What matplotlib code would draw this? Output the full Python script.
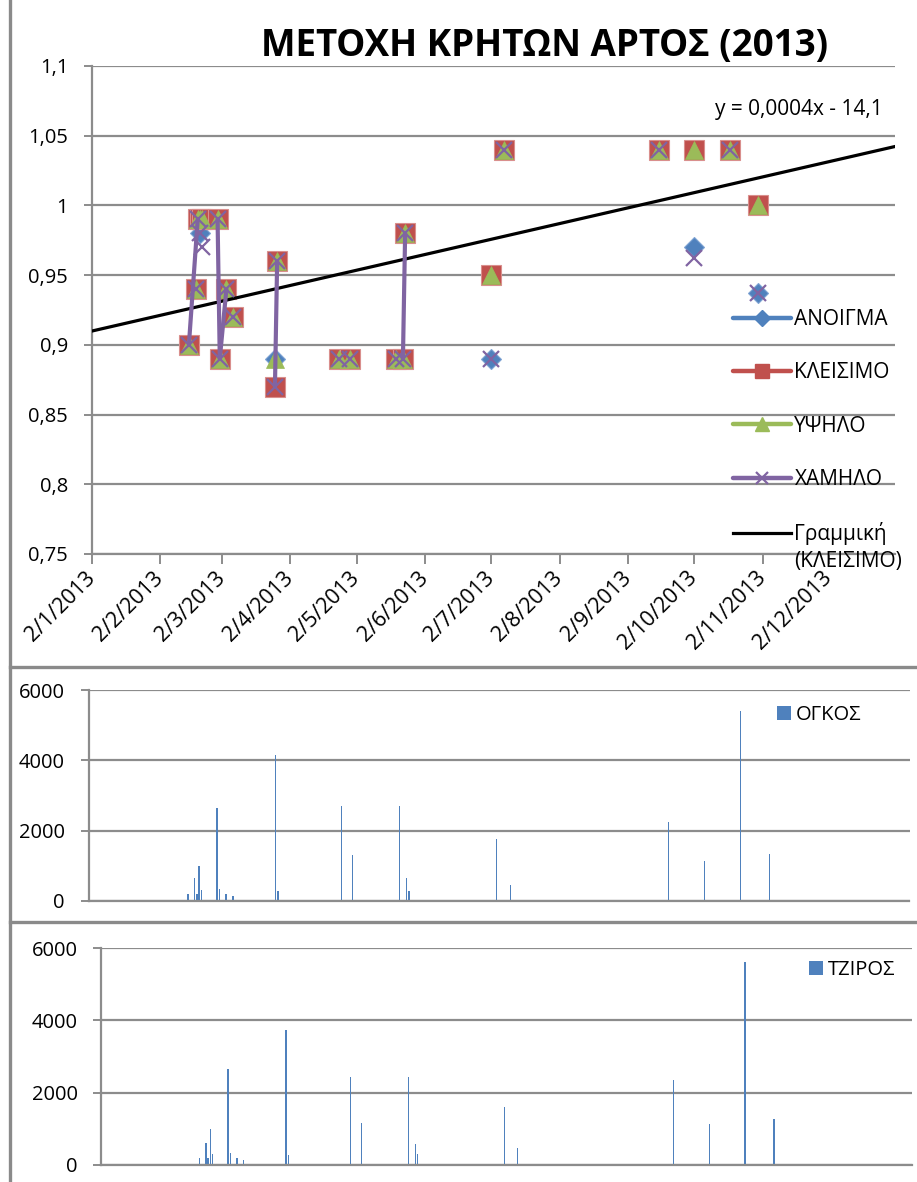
import matplotlib
matplotlib.use("Agg")
import numpy as np
import matplotlib.pyplot as plt
import matplotlib.dates as mdates
from matplotlib.lines import Line2D
from matplotlib.patches import Patch
from matplotlib.ticker import FuncFormatter

plt.rcParams['font.family'] = ['Open Sans', 'DejaVu Sans']

# ---- data -----------------------------------------------------------------
dates = ["2013-02-15", "2013-02-18", "2013-02-19", "2013-02-20", "2013-02-21",
         "2013-02-28", "2013-03-01", "2013-03-04", "2013-03-07",
         "2013-03-26", "2013-03-27", "2013-04-24", "2013-04-29",
         "2013-05-20", "2013-05-23", "2013-05-24", "2013-07-02", "2013-07-08",
         "2013-09-16", "2013-10-02", "2013-10-18", "2013-10-31"]

open_ = [0.90, 0.94, 0.99, 0.98, 0.99, 0.99, 0.89, 0.94, 0.92, 0.89, 0.96,
         0.89, 0.89, 0.89, 0.89, 0.98, 0.89, 1.04, 1.04, 0.97, 1.04, 0.937]
close = [0.90, 0.94, 0.99, 0.99, 0.99, 0.99, 0.89, 0.94, 0.92, 0.87, 0.96,
         0.89, 0.89, 0.89, 0.89, 0.98, 0.95, 1.04, 1.04, 1.04, 1.04, 1.00]
high = [0.90, 0.94, 0.99, 0.99, 0.99, 0.99, 0.89, 0.94, 0.92, 0.89, 0.96,
        0.89, 0.89, 0.89, 0.89, 0.98, 0.95, 1.04, 1.04, 1.04, 1.04, 1.00]
low = [0.90, 0.94, 0.99, 0.98, 0.97, 0.99, 0.89, 0.94, 0.92, 0.87, 0.96,
       0.89, 0.89, 0.89, 0.89, 0.98, 0.89, 1.04, 1.04, 0.962, 1.04, 0.937]

# consecutive rows of the low series that are joined by a line
low_links = [("2013-02-15", "2013-02-19"), ("2013-02-28", "2013-03-01"),
             ("2013-03-01", "2013-03-04"), ("2013-03-26", "2013-03-27"),
             ("2013-05-23", "2013-05-24")]

volume = [200, 650, 200, 1000, 310, 2650, 340, 200, 150, 4150, 290,
          2700, 1300, 2700, 640, 290, 1750, 450, 2250, 1150, 5400, 1350]
turnover = [185, 615, 185, 995, 305, 2650, 320, 185, 140, 3740, 285,
            2440, 1170, 2440, 580, 300, 1590, 480, 2345, 1130, 5620, 1270]

series_names = ["ΑΝΟΙΓΜΑ", "ΚΛΕΙΣΙΜΟ", "ΥΨΗΛΟ", "ΧΑΜΗΛΟ"]
trend_name = "Γραμμική"
trend_sub = "(ΚΛΕΙΣΙΜΟ)"
title = "ΜΕΤΟΧΗ ΚΡΗΤΩΝ ΑΡΤΟΣ (2013)"
price_ticks = [0.75, 0.8, 0.85, 0.9, 0.95, 1.0, 1.05, 1.1]
amount_ticks = [0, 2000, 4000, 6000]

# ---- styling ----------------------------------------------------------------
BLUE, RED, GREEN, PURPLE = "#4F81BD", "#C0504D", "#9BBB59", "#8064A2"
GRID = "#8C8C8C"
W, H = 917, 1182
FS = 14.5
LEG_FS = 15


def px_box(l, t, r, b):
    return [l / W, 1 - b / H, (r - l) / W, (b - t) / H]


x = mdates.datestr2num(dates)
d_index = {d: i for i, d in enumerate(dates)}
x_start = mdates.datestr2num("2013-01-02")
x_end = mdates.datestr2num("2014-01-01")

fig = plt.figure(figsize=(W / 100, H / 100), dpi=100)


def style_value_axis(ax, ticks, fmt, pad):
    ax.set_yticks(ticks)
    ax.yaxis.set_major_formatter(FuncFormatter(fmt))
    ax.yaxis.grid(True, color=GRID, lw=1.6)
    ax.set_axisbelow(True)
    for s in ("top", "right"):
        ax.spines[s].set_visible(False)
    for s in ("left", "bottom"):
        ax.spines[s].set_color(GRID)
        ax.spines[s].set_linewidth(1.6)
    ax.tick_params(axis="y", direction="out", length=6, width=1.4,
                   color=GRID, labelsize=FS, pad=pad)


# ---- price chart --------------------------------------------------------------
ax1 = fig.add_axes(px_box(91.8, 66, 895, 554))
ax1.set_xlim(x_start, x_end)
ax1.set_ylim(0.75, 1.1)
style_value_axis(ax1, price_ticks,
                 lambda v, p: f"{round(v, 2):g}".replace(".", ","), 11)
ax1.xaxis.set_major_locator(mdates.MonthLocator(bymonthday=2))
ax1.xaxis.set_major_formatter(
    FuncFormatter(lambda v, p: (lambda d: f"{d.day}/{d.month}/{d.year}")(mdates.num2date(v))))
ax1.tick_params(axis="x", direction="out", length=7, width=1.4, color=GRID,
                labelsize=15.5, pad=8)
for lab in ax1.get_xticklabels():
    lab.set_rotation(45)
    lab.set_ha("right")
    lab.set_va("center")
    lab.set_rotation_mode("anchor")

mk = dict(linestyle="none")
ax1.plot(x, open_, marker="D", ms=10.5, color=BLUE, mec="#7FA3D3", mew=0.8,
         zorder=3, **mk)
ax1.plot(x, close, marker="s", ms=14, color=RED, mec="#D98F8D", mew=0.8,
         zorder=4, **mk)
ax1.plot(x, high, marker="^", ms=13.5, color=GREEN, mec=GREEN, mew=0.5,
         zorder=5, **mk)

coef = np.polyfit(x, close, 1)
xs = np.array([x_start, x_end])
ax1.plot(xs, np.polyval(coef, xs), color="black", lw=2.3, zorder=6)

for a, b in low_links:
    i, j = d_index[a], d_index[b]
    ax1.plot([x[i], x[j]], [low[i], low[j]], color=PURPLE, lw=3,
             solid_capstyle="round", zorder=7)
ax1.plot(x, low, marker="x", ms=11.5, color=PURPLE, mew=1.6, zorder=8, **mk)

# trendline equation (Excel serial day numbers)
excel_offset = 25569
slope, icpt = coef[0], coef[1] - coef[0] * excel_offset
sign = "-" if icpt < 0 else "+"
eq = f"y = {slope:.4f}x {sign} {abs(icpt):.1f}".replace(".", ",")
fig.text(799 / W, 1 - 110 / H, eq, ha="center", va="center", fontsize=15)

fig.text(545 / W, 1 - 46 / H, title, ha="center", va="center",
         fontsize=26.5, fontweight="bold")

handles = [
    Line2D([], [], color=BLUE, lw=3.2, marker="D", ms=8,
           solid_capstyle="round"),
    Line2D([], [], color=RED, lw=3.2, marker="s", ms=10,
           solid_capstyle="round"),
    Line2D([], [], color=GREEN, lw=3.2, marker="^", ms=10,
           solid_capstyle="round"),
    Line2D([], [], color=PURPLE, lw=3.2, marker="x", ms=9, mew=1.6,
           solid_capstyle="round"),
    Line2D([], [], color="black", lw=2.3),
]
leg = ax1.legend(handles, series_names + [trend_name], loc="upper left",
                 bbox_to_anchor=(733 / W, 1 - 309 / H),
                 bbox_transform=fig.transFigure, frameon=False,
                 fontsize=LEG_FS, handlelength=2.8, handletextpad=0.15,
                 labelspacing=1.55, borderpad=0, borderaxespad=0)
leg.set_zorder(10)

# ---- volume & turnover charts ---------------------------------------------------
def bar_panel(box, values, label, leg_xy):
    ax = fig.add_axes(px_box(*box))
    ax.bar(x, values, width=0.6, color=BLUE, linewidth=0)
    ax.set_xlim(x_start, x_end)
    ax.set_ylim(0, 6000)
    style_value_axis(ax, amount_ticks, lambda v, p: f"{int(v)}", 11)
    ax.tick_params(axis="x", bottom=False, labelbottom=False)
    ax.legend([Patch(facecolor=BLUE)], [label], loc="center left",
              bbox_to_anchor=(leg_xy[0] / W, 1 - leg_xy[1] / H),
              bbox_transform=fig.transFigure, frameon=False, fontsize=FS,
              handlelength=0.7, handleheight=0.7, handletextpad=0.25,
              borderpad=0, borderaxespad=0)
    return ax


bar_panel((88.6, 690, 909.5, 901), volume, "ΟΓΚΟΣ", (777, 715))
bar_panel((101.2, 948, 912, 1165), turnover, "ΤΖΙΡΟΣ", (809, 970))

# panel frames
frame = dict(transform=fig.transFigure, color="#8A8A8A", lw=2.4)
fig.add_artist(Line2D([9.5 / W, 9.5 / W], [0, 1], **frame))
fig.add_artist(Line2D([9.5 / W, 1], [1 - 667 / H] * 2, **frame))
fig.add_artist(Line2D([9.5 / W, 1], [1 - 922 / H] * 2, **frame))

# second line of the trendline legend entry
fig.canvas.draw()
bb = leg.get_texts()[-1].get_window_extent()
fig.text(bb.x0 / W, ((bb.y0 + bb.y1) / 2 - 28) / H, trend_sub,
         ha="left", va="center", fontsize=LEG_FS)

fig.savefig("out.png", dpi=100)
